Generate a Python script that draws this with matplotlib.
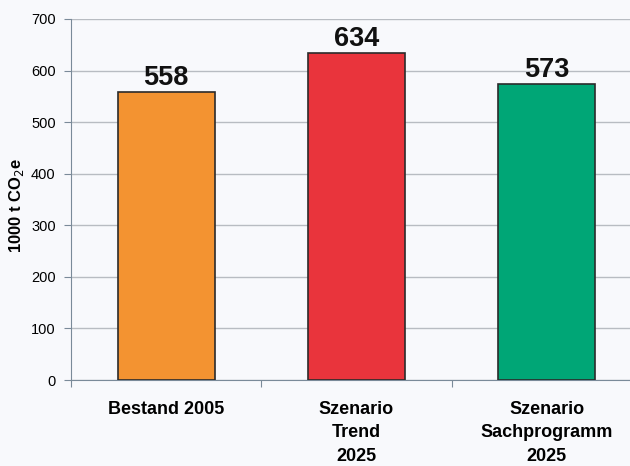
import matplotlib.pyplot as plt

categories = ['Bestand 2005', 'Szenario\nTrend\n2025', 'Szenario\nSachprogramm\n2025']
values = [558, 634, 573]
colors = ['#f39331', '#e9343c', '#00a676']


def main():
    plt.rcParams['font.family'] = ['Liberation Sans', 'DejaVu Sans']
    bg = '#f8f9fc'

    fig = plt.figure(figsize=(6.3, 4.66), dpi=100, facecolor=bg)
    ax = fig.add_axes([71 / 630, 86 / 466, 571 / 630, 361 / 466])
    ax.set_facecolor(bg)

    x = list(range(len(categories)))
    ax.bar(x, values, width=0.51, color=colors, edgecolor='#2b2b2b', linewidth=1.2, zorder=3)
    for xi, v in zip(x, values):
        ax.text(xi, v + 2, str(v), ha='center', va='bottom', fontsize=19.5,
                fontweight='bold', color='#111111', zorder=4)

    ax.set_xlim(-0.5, 2.5)
    ax.set_ylim(0, 700)
    ax.set_yticks(range(0, 701, 100))
    ax.yaxis.grid(True, color='#b8bcc2', linewidth=1)
    ax.set_axisbelow(True)

    ax.set_xticks([-0.5, 0.5, 1.5, 2.5])
    ax.set_xticklabels([])
    ax.tick_params(axis='x', length=5, color='#7a8a99', direction='out')
    ax.tick_params(axis='y', length=5, color='#7a8a99', labelsize=10.5, pad=6)
    for xi, lab in zip(x, categories):
        ax.text(xi, -0.058, lab, transform=ax.get_xaxis_transform(), ha='center', va='top',
                fontsize=13, fontweight='bold', linespacing=1.5)

    for s in ['top', 'right']:
        ax.spines[s].set_visible(False)
    ax.spines['left'].set_color('#7a8a99')
    ax.spines['bottom'].set_color('#7a8a99')

    fig.text(17 / 630, (466 - 205) / 466, '1000 t CO$_2$e', rotation=90, ha='center', va='center',
             fontsize=12, fontweight='bold')

    fig.savefig('out.png', dpi=100, facecolor=bg)


if __name__ == '__main__':
    main()
